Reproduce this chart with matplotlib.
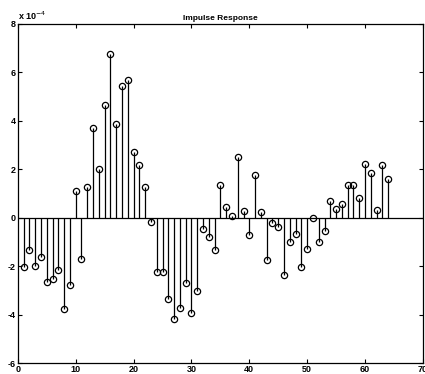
import matplotlib
matplotlib.use("Agg")
import matplotlib.pyplot as plt

# impulse response samples n = 1..64 (units of 1e-4)
n = list(range(1, 65))
h = [-2.03, -1.32, -1.97, -1.60, -2.67, -2.52, -2.17, -3.75, -2.76, 1.11,
     -1.72, 1.29, 3.70, 2.02, 4.66, 6.76, 3.88, 5.42, 5.69, 2.73,
     2.16, 1.25, -0.18, -2.24, -2.24, -3.35, -4.18, -3.74, -2.69, -3.95,
     -3.01, -0.47, -0.80, -1.35, 1.36, 0.44, 0.08, 2.49, 0.30, -0.70,
     1.77, 0.23, -1.73, -0.22, -0.38, -2.38, -1.00, -0.66, -2.05, -1.28,
     -0.01, -1.00, -0.54, 0.70, 0.36, 0.58, 1.36, 1.36, 0.81, 2.23,
     1.84, 0.33, 2.19, 1.61]
h = [v * 1e-4 for v in h]

plt.rcParams["font.family"] = "Liberation Sans"

fig = plt.figure(figsize=(4.25, 3.74), dpi=100)
ax = fig.add_axes([0.042, 0.029, 0.953, 0.907])

markerline, stemlines, baseline = ax.stem(n, h, linefmt="k-", markerfmt="ko", basefmt="k-")
markerline.set_markerfacecolor("none")
markerline.set_markersize(4.5)
markerline.set_markeredgewidth(0.9)
stemlines.set_linewidth(0.9)
baseline.set_linewidth(0.9)
baseline.set_xdata([0, 70])

ax.set_xlim(0, 70)
ax.set_ylim(-6e-4, 8e-4)
ax.set_xticks(range(0, 71, 10))
ax.set_yticks([v * 1e-4 for v in range(-6, 9, 2)])
ax.set_yticklabels([str(v) for v in range(-6, 9, 2)])
ax.tick_params(direction="in", length=3, width=0.8, labelsize=6.5, pad=1.5,
               top=True, right=True)
for lab in ax.get_xticklabels() + ax.get_yticklabels():
    lab.set_fontweight("bold")
for s in ax.spines.values():
    s.set_linewidth(0.9)

ax.text(0.0, 1.005, "x 10$^{-4}$", transform=ax.transAxes, fontsize=6.5,
        fontweight="bold", ha="left", va="bottom")
ax.set_title("Impulse Response", fontsize=6, fontweight="bold", pad=3)

fig.savefig("out.png", dpi=100)
